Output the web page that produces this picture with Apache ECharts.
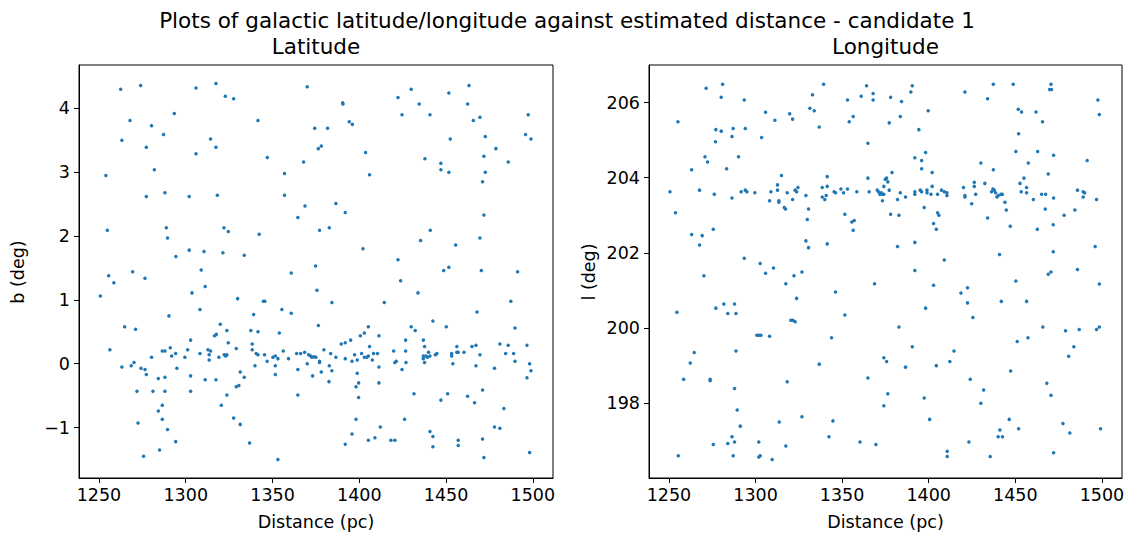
<!DOCTYPE html>
<html>
<head>
<meta charset="UTF-8">
<title>Galactic latitude/longitude against distance</title>
<script src="https://cdn.jsdelivr.net/npm/echarts@6/dist/echarts.min.js"></script>
<style>
  html, body { margin: 0; padding: 0; background: #fff; }
  #chart { width: 1134px; height: 542px; }
</style>
</head>
<body>
<div id="chart"></div>
<script>
// [distance (pc), b (deg)]
var latitudePoints = [
  [1262.5,4.30],[1274.0,4.36],[1305.9,4.32],[1317.4,4.39],[1322.8,4.19],[1327.6,4.15],[1370.0,4.34],
  [1267.9,3.81],[1280.3,3.73],[1293.4,3.92],[1341.6,3.81],[1263.2,3.50],[1277.3,3.39],[1287.2,3.59],
  [1314.3,3.52],[1317.4,3.39],[1305.9,3.29],[1347.0,3.23],[1367.9,3.16],[1254.0,2.95],[1281.9,3.04],
  [1356.9,2.98],[1277.3,2.62],[1288.0,2.68],[1302.0,2.62],[1318.2,2.64],[1356.9,2.64],[1368.7,2.47],
  [1364.6,2.29],[1254.8,2.09],[1288.8,2.13],[1289.5,1.97],[1322.0,2.13],[1324.5,2.07],[1342.3,2.03],
  [1302.0,1.78],[1310.5,1.76],[1321.4,1.74],[1294.3,1.68],[1333.7,1.70],
  [1390.4,4.09],[1390.6,4.07],[1374.3,3.69],[1381.7,3.69],[1394.2,3.79],[1396.0,3.75],[1376.4,3.37],
  [1378.1,3.41],[1403.6,3.31],[1405.9,2.96],[1386.5,2.51],[1391.9,2.37],[1377.1,2.09],[1382.7,2.13],
  [1402.1,1.80],[1374.8,1.53],[1422.3,4.17],[1429.9,4.30],[1424.6,3.90],[1434.5,4.07],[1440.7,3.90],
  [1451.6,4.24],[1463.2,4.36],[1462.4,4.07],[1465.7,3.81],[1469.5,3.86],[1452.4,3.52],[1472.6,3.56],
  [1437.8,3.21],[1447.0,3.14],[1447.0,3.04],[1451.6,3.00],[1471.8,3.25],[1478.7,3.37],[1485.8,3.16],
  [1472.6,3.00],[1471.0,2.85],[1497.3,3.90],[1495.8,3.59],[1498.9,3.52],[1471.8,2.33],[1440.9,2.09],
  [1435.3,1.93],[1455.5,1.86],[1469.5,1.97],[1422.3,1.63],[1448.6,1.46],[1451.6,1.51],[1470.3,1.46],
  [1491.2,1.44],
  [1255.6,1.38],[1269.4,1.44],[1258.6,1.27],[1276.5,1.34],[1308.9,1.47],[1311.2,1.21],[1303.6,1.11],
  [1250.8,1.06],[1360.8,1.42],[1329.9,1.02],[1344.7,0.98],[1345.6,0.98],[1308.2,0.85],[1355.4,0.85],
  [1360.8,0.79],[1290.3,0.75],[1339.1,0.77],[1264.8,0.58],[1271.1,0.54],[1319.9,0.62],[1323.7,0.52],
  [1337.5,0.52],[1341.6,0.50],[1353.9,0.48],[1316.6,0.44],[1317.6,0.46],[1302.8,0.37],[1324.5,0.33],
  [1338.3,0.31],[1329.1,0.24],[1256.3,0.22],[1291.1,0.25],[1286.5,0.20],[1288.0,0.20],[1280.3,0.10],
  [1291.9,0.12],[1294.2,0.16],[1301.1,0.22],[1299.5,0.10],[1312.8,0.22],[1314.3,0.20],[1313.5,0.14],
  [1308.2,0.16],[1313.5,0.06],[1319.1,0.10],[1322.2,0.14],[1323.0,0.12],[1323.7,0.14],[1338.3,0.22],
  [1340.6,0.16],[1341.6,0.14],[1345.4,0.14],[1356.2,0.20],[1359.2,0.08],[1350.2,0.10],[1351.6,0.12],
  [1353.1,0.08],[1346.9,0.04],[1351.6,-0.03],[1363.9,0.16],[1366.2,0.16],[1263.2,-0.05],[1268.6,-0.03],
  [1270.2,0.02],[1274.2,-0.07],[1276.5,-0.09],[1277.3,-0.17],[1284.2,-0.23],[1288.0,-0.21],[1294.9,-0.07],
  [1302.8,-0.19],[1311.2,-0.25],[1317.4,-0.25],[1331.4,-0.13],[1333.7,-0.21],[1271.9,-0.43],[1281.1,-0.43],
  [1288.0,-0.43],[1302.8,-0.43],[1329.1,-0.36],[1330.6,-0.34],[1323.7,-0.49],[1339.9,-0.03],[1364.6,-0.09],
  [1364.6,-0.49],[1351.6,-0.17],[1320.5,-0.65],[1284.2,-0.74],[1286.5,-0.65],[1286.5,-0.87],[1272.5,-0.93],
  [1289.5,-1.03],[1294.2,-1.22],[1327.6,-0.85],[1331.4,-0.95],[1336.8,-1.24],[1284.9,-1.35],[1275.7,-1.45],
  [1353.1,-1.50],
  [1375.6,1.15],[1384.2,0.96],[1423.8,1.30],[1433.8,1.11],[1414.4,0.96],[1376.4,0.60],[1487.3,0.98],
  [1467.8,0.81],[1489.7,0.56],[1442.4,0.67],[1450.1,0.58],[1429.9,0.58],[1432.2,0.52],[1405.2,0.58],
  [1402.9,0.48],[1400.6,0.44],[1411.3,0.44],[1395.0,0.37],[1391.9,0.33],[1389.6,0.31],[1379.6,0.22],
  [1383.5,0.16],[1386.5,0.10],[1391.9,0.08],[1397.3,0.14],[1398.8,0.06],[1395.8,0.04],[1401.3,0.16],
  [1402.9,0.10],[1404.4,0.10],[1405.2,0.12],[1405.9,0.27],[1408.2,0.16],[1410.5,0.16],[1407.5,0.06],
  [1411.3,-0.05],[1368.5,0.18],[1370.8,0.14],[1372.0,0.12],[1372.7,0.10],[1373.9,0.11],[1375.0,0.10],
  [1370.0,0.00],[1377.1,0.04],[1377.1,0.02],[1382.7,-0.03],[1384.2,-0.11],[1378.1,-0.13],[1373.1,-0.19],
  [1382.5,-0.28],[1398.8,-0.15],[1399.6,-0.30],[1398.1,-0.36],[1399.6,-0.53],[1411.3,-0.30],[1419.8,0.20],
  [1420.5,0.02],[1421.3,0.04],[1426.7,0.37],[1426.7,0.20],[1426.9,0.02],[1424.6,-0.09],[1436.9,0.37],
  [1437.6,0.27],[1439.9,0.18],[1436.9,0.12],[1438.4,0.12],[1439.2,0.10],[1440.7,0.12],[1436.9,0.08],
  [1437.6,0.02],[1443.8,0.14],[1444.7,0.16],[1453.2,0.16],[1453.2,0.12],[1453.9,0.00],[1456.2,0.27],
  [1456.2,0.18],[1457.0,0.18],[1460.3,0.18],[1464.9,0.27],[1467.2,0.29],[1469.5,0.14],[1467.2,-0.03],
  [1481.0,0.31],[1485.8,0.29],[1484.3,0.16],[1488.9,0.16],[1489.7,0.04],[1477.9,-0.07],[1496.6,0.29],
  [1498.1,0.00],[1498.9,-0.11],[1496.6,-0.22],[1431.5,-0.47],[1447.0,-0.57],[1450.9,-0.47],[1462.4,-0.51],
  [1466.4,-0.61],[1471.0,-0.41],[1483.3,-0.70],[1398.1,-0.87],[1395.8,-1.10],[1391.9,-1.26],[1405.2,-1.20],
  [1409.0,-1.16],[1412.1,-0.99],[1418.2,-1.20],[1420.5,-1.20],[1426.1,-0.87],[1440.7,-1.06],[1442.4,-1.14],
  [1442.4,-1.30],[1457.0,-1.20],[1457.0,-1.28],[1471.0,-1.18],[1471.8,-1.47],[1477.9,-0.99],[1481.0,-1.01],
  [1498.1,-1.39]
];

// [distance (pc), l (deg)]
var longitudePoints = [
  [1271.5,206.38],[1281.0,206.49],[1280.2,206.14],[1293.5,206.07],[1255.2,205.49],[1277.1,205.28],
  [1280.2,205.24],[1287.1,205.31],[1294.1,205.31],[1276.9,204.96],[1286.4,205.10],[1303.5,205.07],
  [1305.8,205.74],[1311.2,205.53],[1319.7,205.70],[1321.4,205.56],[1332.9,206.21],[1339.3,206.49],
  [1331.4,205.85],[1333.9,205.78],[1336.8,205.35],[1353.1,206.07],[1361.0,206.17],[1364.1,206.45],
  [1367.9,206.24],[1367.9,206.07],[1354.1,205.49],[1356.4,205.63],[1364.9,204.92],[1378.0,206.14],
  [1377.2,205.46],[1270.8,204.56],[1272.3,204.42],[1290.2,204.56],[1263.1,204.21],[1283.3,204.24],
  [1250.6,203.63],[1267.7,203.67],[1276.2,203.56],[1286.4,203.46],[1291.7,203.63],[1294.1,203.67],
  [1295.0,203.63],[1299.6,203.60],[1308.9,203.63],[1312.7,203.67],[1312.7,203.81],[1315.0,204.06],
  [1308.1,203.39],[1313.5,203.39],[1313.5,203.35],[1316.6,203.21],[1317.3,203.17],[1318.3,203.60],
  [1321.4,203.42],[1322.9,203.67],[1323.7,203.63],[1324.5,203.74],[1329.1,203.53],[1330.6,203.17],
  [1329.9,202.89],[1329.1,202.32],[1330.6,202.14],[1341.4,202.24],[1338.5,203.74],[1341.4,203.77],
  [1341.4,204.03],[1338.5,203.49],[1340.0,203.42],[1340.8,203.53],[1345.4,203.63],[1346.2,203.60],
  [1349.3,203.70],[1350.8,203.60],[1353.1,203.70],[1351.6,203.03],[1355.6,202.82],[1357.0,202.86],
  [1356.4,202.60],[1358.5,203.63],[1365.6,203.63],[1364.9,203.99],[1370.3,203.67],[1371.0,203.63],
  [1371.8,203.56],[1372.6,203.60],[1373.3,203.56],[1374.1,203.56],[1373.3,203.39],[1374.1,203.77],
  [1374.9,203.96],[1375.7,203.99],[1376.4,203.89],[1377.2,203.67],[1378.0,203.03],[1253.8,203.07],
  [1263.1,202.49],[1269.2,202.46],[1267.7,202.21],[1275.6,202.63],[1293.5,201.86],[1302.7,201.72],
  [1378.8,204.14],[1384.3,206.03],[1383.6,205.63],[1390.5,206.45],[1389.7,206.28],[1399.7,205.78],
  [1394.3,205.28],[1420.9,206.28],[1434.0,206.10],[1437.3,206.49],[1448.8,206.49],[1451.7,205.82],
  [1453.6,205.75],[1461.9,205.75],[1465.7,205.49],[1451.9,205.17],[1470.6,206.49],[1469.8,206.35],
  [1470.9,206.35],[1497.7,206.07],[1498.5,205.68],[1392.0,204.53],[1395.9,204.46],[1398.2,204.67],
  [1395.9,204.24],[1402.0,204.14],[1450.3,204.70],[1462.9,204.70],[1472.1,204.60],[1457.5,204.39],
  [1430.1,204.39],[1437.3,204.21],[1491.5,204.46],[1469.0,204.10],[1383.6,203.60],[1382.0,203.42],
  [1386.6,203.49],[1392.0,203.63],[1392.0,203.56],[1395.1,203.67],[1395.9,203.63],[1399.0,203.67],
  [1399.0,203.60],[1401.3,203.56],[1402.0,203.77],[1405.1,203.56],[1407.4,203.67],[1409.0,203.63],
  [1410.5,203.60],[1410.5,203.53],[1420.1,203.74],[1420.9,203.53],[1420.9,203.49],[1426.3,203.88],
  [1426.3,203.77],[1427.1,203.56],[1424.8,203.31],[1432.4,203.85],[1436.3,203.63],[1437.1,203.70],
  [1437.8,203.67],[1438.6,203.60],[1439.4,203.49],[1440.1,203.53],[1441.7,203.56],[1442.5,203.56],
  [1444.0,203.35],[1444.8,203.14],[1452.7,203.85],[1455.0,203.99],[1453.4,203.63],[1456.5,203.74],
  [1456.5,203.60],[1460.4,203.42],[1465.2,203.56],[1467.5,203.56],[1472.1,203.46],[1467.3,203.17],
  [1485.9,203.67],[1489.2,203.63],[1490.0,203.60],[1489.2,203.49],[1496.9,203.42],[1484.4,203.14],
  [1478.2,203.00],[1382.8,203.00],[1397.4,203.21],[1405.1,203.07],[1405.9,203.00],[1402.8,202.78],
  [1404.4,202.63],[1434.0,202.93],[1447.1,202.71],[1462.7,202.63],[1471.9,202.75],[1382.0,202.17],
  [1392.0,202.28],[1409.0,201.81],[1392.0,201.53],[1440.9,201.96],[1471.9,202.03],[1496.1,202.17],
  [1485.9,201.56],[1470.6,201.49],[1469.0,201.43],
  [1270.2,201.39],[1310.4,201.60],[1305.8,201.46],[1322.2,201.39],[1326.8,201.49],[1317.5,201.18],
  [1323.7,200.79],[1346.2,200.96],[1368.7,201.18],[1254.6,200.42],[1277.1,200.53],[1281.7,200.64],
  [1287.9,200.64],[1284.0,200.39],[1288.7,200.39],[1320.4,200.21],[1321.6,200.21],[1322.9,200.17],
  [1351.6,200.35],[1300.8,199.81],[1301.9,199.81],[1303.1,199.81],[1308.1,199.78],[1343.9,199.74],
  [1264.6,199.35],[1288.7,199.39],[1262.3,199.07],[1336.8,199.04],[1374.1,199.21],[1375.7,199.11],
  [1258.5,198.64],[1273.8,198.64],[1273.8,198.60],[1318.3,198.57],[1364.9,198.67],[1287.9,198.39],
  [1376.4,198.25],[1374.1,197.93],[1289.4,197.82],[1291.2,197.39],[1313.7,197.50],[1326.8,197.64],
  [1344.7,197.53],[1342.4,197.11],[1286.4,197.11],[1275.6,196.90],[1284.0,196.93],[1287.9,196.97],
  [1301.9,196.97],[1317.5,196.86],[1360.3,196.97],[1369.5,196.90],[1255.4,196.60],[1287.1,196.60],
  [1301.9,196.57],[1302.7,196.60],[1309.6,196.50],
  [1402.8,201.14],[1418.6,200.93],[1422.4,201.07],[1422.4,200.67],[1425.5,200.28],[1398.2,200.53],
  [1382.8,200.03],[1450.3,201.25],[1441.9,200.71],[1456.5,200.71],[1498.5,201.17],[1465.9,200.03],
  [1479.0,199.93],[1486.9,199.96],[1496.9,199.96],[1498.5,200.03],[1390.5,199.50],[1386.6,198.96],
  [1404.4,199.00],[1412.2,199.11],[1414.6,199.39],[1451.1,199.64],[1457.3,199.74],[1483.8,199.50],
  [1480.8,199.25],[1447.3,198.86],[1424.0,198.64],[1431.7,198.35],[1430.1,198.00],[1397.4,198.14],
  [1468.2,198.53],[1470.6,198.21],[1400.5,197.57],[1446.5,197.57],[1451.9,197.32],[1441.1,197.29],
  [1440.1,197.11],[1442.6,197.11],[1423.2,196.97],[1477.5,197.46],[1481.5,197.21],[1499.2,197.32],
  [1410.7,196.72],[1410.7,196.58],[1435.5,196.58],[1472.1,196.68]
];

var distanceTicks = [1250, 1300, 1350, 1400, 1450, 1500];
var latitudeTicks = [-1, 0, 1, 2, 3, 4];
var longitudeTicks = [198, 200, 202, 204, 206];

var font = 'DejaVu Sans';
var dotColor = '#1f77b4';

var chart = echarts.init(document.getElementById('chart'), null, { renderer: 'svg' });

// matplotlib style: no thousands separator, real minus sign
function tickText(v) {
  return v < 0 ? '\u2212' + Math.abs(v) : String(v);
}

function makeXAxis(idx) {
  return {
    type: 'value', gridIndex: idx, min: 1238.5, max: 1511.6,
    axisLine: { show: true, onZero: false, lineStyle: { color: '#000', width: 1 } },
    axisTick: { show: true, length: 5, customValues: distanceTicks, lineStyle: { color: '#000' } },
    axisLabel: { customValues: distanceTicks, color: '#000', fontFamily: font, fontSize: 17.5, margin: 8,
                 formatter: tickText },
    splitLine: { show: false }
  };
}

function makeYAxis(idx, min, max, ticks) {
  return {
    type: 'value', gridIndex: idx, min: min, max: max,
    axisLine: { show: true, onZero: false, lineStyle: { color: '#000', width: 1 } },
    axisTick: { show: true, length: 5, customValues: ticks, lineStyle: { color: '#000' } },
    axisLabel: { customValues: ticks, color: '#000', fontFamily: font, fontSize: 17.5, margin: 9,
                 formatter: tickText },
    splitLine: { show: false }
  };
}

function label(text, x, y, size, rot) {
  return {
    type: 'text', x: x, y: y, rotation: rot || 0,
    style: { text: text, fill: '#000', font: size + 'px "' + font + '"', align: 'center', verticalAlign: 'middle' }
  };
}

chart.setOption({
  animation: false,
  backgroundColor: '#fff',
  grid: [
    { left: 79, top: 65, width: 474, height: 413, show: true, borderColor: '#000', borderWidth: 1 },
    { left: 649, top: 65, width: 473, height: 413, show: true, borderColor: '#000', borderWidth: 1 }
  ],
  xAxis: [makeXAxis(0), makeXAxis(1)],
  yAxis: [
    makeYAxis(0, -1.79, 4.68, latitudeTicks),
    makeYAxis(1, 196.01, 207.0, longitudeTicks)
  ],
  series: [
    { type: 'scatter', xAxisIndex: 0, yAxisIndex: 0, data: latitudePoints,
      symbolSize: 3.5, itemStyle: { color: dotColor, opacity: 1 } },
    { type: 'scatter', xAxisIndex: 1, yAxisIndex: 1, data: longitudePoints,
      symbolSize: 3.5, itemStyle: { color: dotColor, opacity: 1 } }
  ],
  graphic: [
    label('Plots of galactic latitude/longitude against estimated distance - candidate 1', 567, 20, 21.5),
    label('Latitude', 316, 46, 21.5),
    label('Longitude', 885.5, 46, 21.5),
    label('Distance (pc)', 316, 522, 17.5),
    label('Distance (pc)', 885.5, 522, 17.5),
    label('b (deg)', 18, 272, 17.5, Math.PI / 2),
    label('l (deg)', 589, 272, 17.5, Math.PI / 2)
  ]
});
</script>
</body>
</html>
